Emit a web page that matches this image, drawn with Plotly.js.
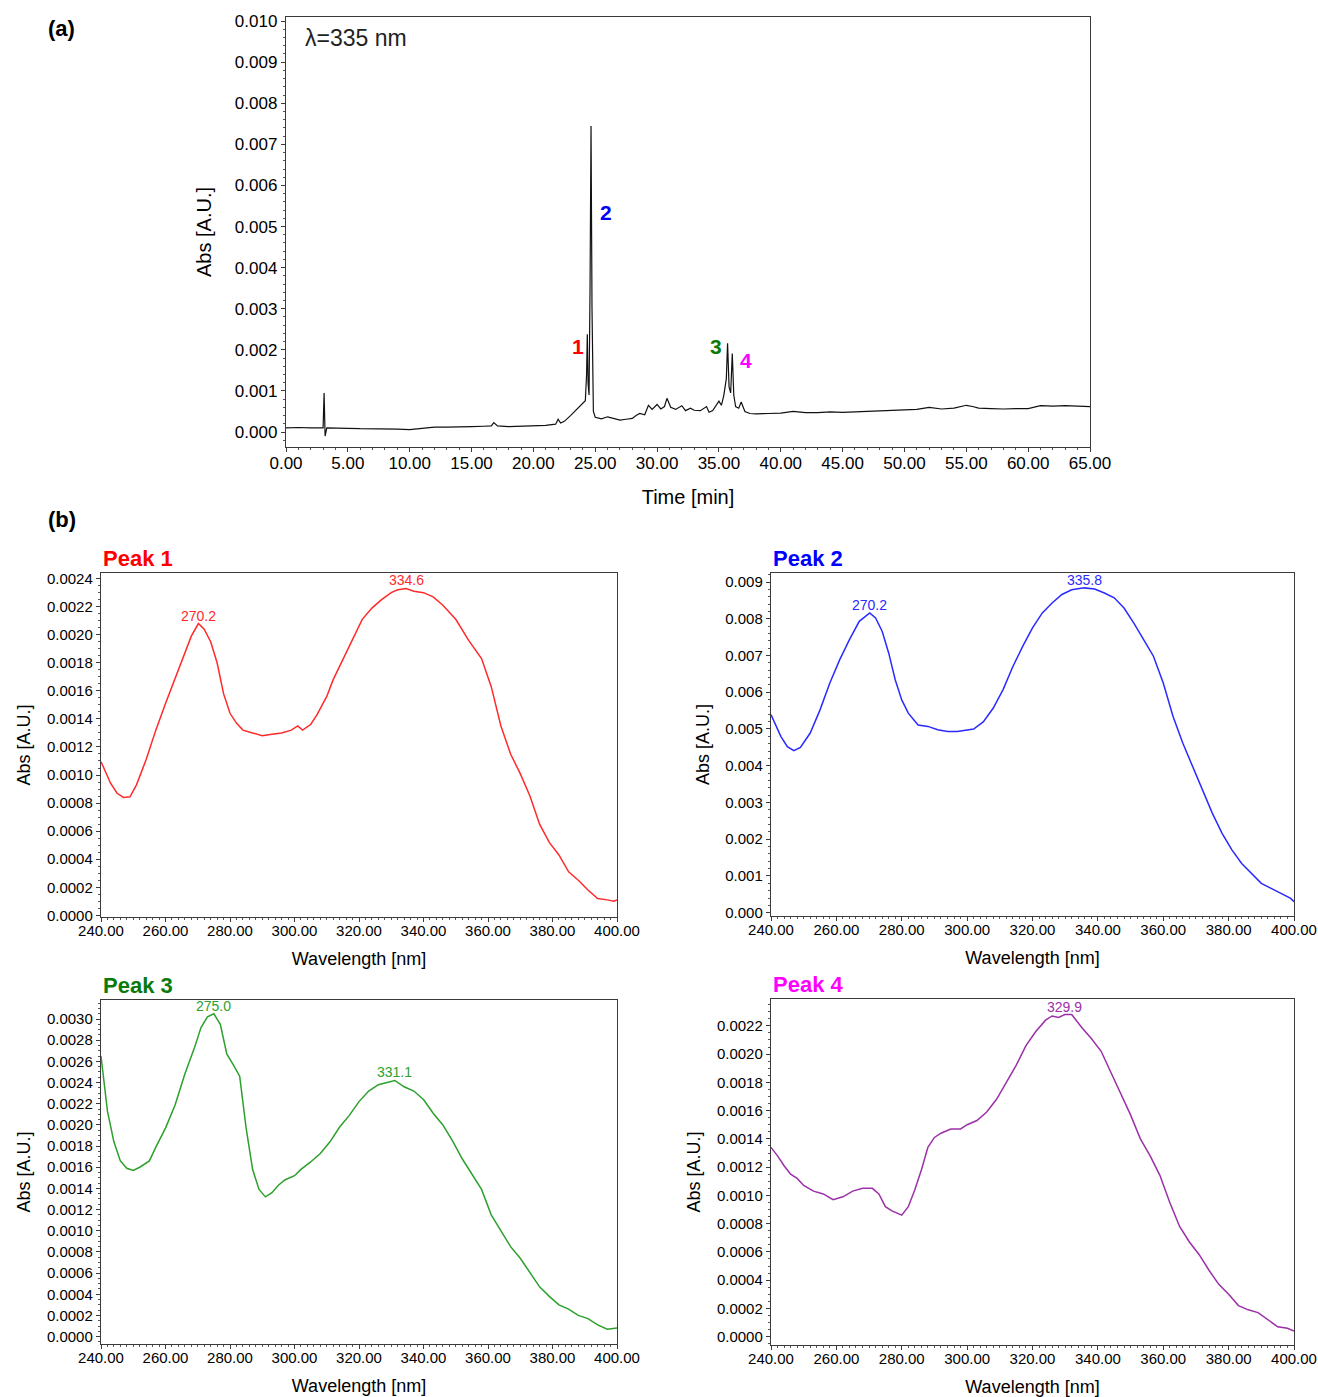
<!DOCTYPE html>
<html><head><meta charset="utf-8">
<script src="https://cdn.plot.ly/plotly-3.0.1.min.js"></script>
<style>html,body{margin:0;padding:0;background:#fff}#chart{width:1318px;height:1397px}</style>
</head><body><div id="chart"></div>
<script>
// ---- (a) chromatogram at 335 nm ----
const chromTime = [0,1,2,2.9,3.0,3.08,3.16,3.3,4,5,6,7,8,9,10,11,12,13,14,15,16,16.6,16.8,17.1,18,19,20,21,21.8,22.0,22.2,22.5,23,23.5,24.0,24.2,24.3,24.36,24.42,24.5,24.58,24.66,24.74,24.85,25.0,25.5,26,26.5,27,27.5,28,28.3,28.6,29,29.3,29.6,30,30.3,30.6,30.8,31.1,31.5,32,32.3,32.7,33,33.5,34,34.2,34.5,35.0,35.2,35.4,35.6,35.7,35.82,35.95,36.08,36.2,36.35,36.6,36.8,37.1,37.5,38,39,40,41,42,43,44,45,46,47,48,49,50,51,52,53,54,55,55.5,56,57,58,59,60,61,62,63,64,65];
const chromAbs = [0.00010,0.00011,0.00010,0.00011,0.00010,0.00095,-0.00010,0.00010,0.00010,0.00009,0.00008,0.00008,0.00008,0.00007,0.00006,0.00009,0.00012,0.00012,0.00012,0.00013,0.00014,0.00015,0.00023,0.00015,0.00013,0.00014,0.00014,0.00016,0.00019,0.00031,0.00022,0.00026,0.00040,0.00055,0.00070,0.00076,0.00140,0.00238,0.00120,0.00090,0.00350,0.00745,0.00300,0.00050,0.00036,0.00032,0.00037,0.00033,0.00029,0.00031,0.00033,0.00040,0.00045,0.00042,0.00065,0.00055,0.00067,0.00056,0.00062,0.00082,0.00060,0.00055,0.00064,0.00052,0.00058,0.00053,0.00052,0.00062,0.00048,0.00052,0.00075,0.00065,0.00090,0.00130,0.00216,0.00110,0.00095,0.00191,0.00090,0.00062,0.00058,0.00073,0.00050,0.00045,0.00044,0.00045,0.00046,0.00050,0.00047,0.00047,0.00049,0.00048,0.00049,0.00050,0.00051,0.00052,0.00054,0.00055,0.00060,0.00056,0.00058,0.00065,0.00062,0.00058,0.00057,0.00056,0.00057,0.00057,0.00064,0.00063,0.00064,0.00063,0.00062];
const peakNumbers = ['1','2','3','4'];
const peakNumTime = [23.6,25.87,34.76,37.19];
const peakNumAbs = [0.00207,0.00533,0.00207,0.00175];

// ---- (b) UV spectra ----
const wl1 = [240,243,245,247,249,251,254,257,260,263,266,268,270.2,272,274,276,278,280,282,284,287,290,293,296,299,301,302.5,305,307,310,312,315,318,321,324,327,330,332,334.6,337,340,343,346,350,354,358,361,364,367,370,373,376,379,382,385,388,391,394,397,399,400];
const abs1 = [0.001095,0.00094,0.00087,0.00084,0.000845,0.00093,0.00111,0.00132,0.00151,0.00169,0.00187,0.00199,0.00208,0.00204,0.00195,0.00180,0.00158,0.00144,0.00137,0.00132,0.00130,0.00128,0.00129,0.00130,0.00132,0.00135,0.00132,0.00136,0.00143,0.00156,0.00168,0.00182,0.00196,0.00211,0.00219,0.00225,0.00230,0.00232,0.00233,0.00231,0.00230,0.00227,0.00221,0.00211,0.00196,0.00183,0.00163,0.00135,0.00115,0.00101,0.00085,0.00065,0.00052,0.00043,0.00031,0.00025,0.00018,0.00012,0.00011,0.00010,0.00011];
const wl2 = [240,243,245,247,249,252,255,258,261,264,267,270.2,272,274,276,278,280,282,285,288,291,294,297,300,302,305,308,311,314,317,320,323,326,329,332,335.8,339,342,345,348,351,354,357,360,363,366,369,372,375,378,381,384,387,390,393,396,399,400];
const abs2 = [0.00539,0.00480,0.00452,0.00441,0.00450,0.00489,0.00552,0.00625,0.00688,0.00743,0.00793,0.00816,0.00802,0.00766,0.00707,0.00634,0.00579,0.00543,0.00511,0.00507,0.00498,0.00493,0.00493,0.00498,0.00500,0.00520,0.00557,0.00607,0.00670,0.00725,0.00775,0.00816,0.00843,0.00866,0.00879,0.00884,0.00881,0.00870,0.00857,0.00829,0.00788,0.00743,0.00698,0.00625,0.00534,0.00461,0.00398,0.00334,0.00271,0.00216,0.00171,0.00134,0.00107,0.00080,0.00066,0.00053,0.00039,0.00030];
const wl3 = [240,241,242,244,246,248,250,252,255,257,260,263,266,269,271,273,275,277,279,281,283,285,287,289,291,293,295,297,300,302,305,308,311,314,317,320,323,326,329,331.1,334,337,340,343,346,349,352,355,358,361,364,367,370,373,376,379,382,385,388,391,394,397,400];
const abs3 = [0.00265,0.00238,0.00213,0.00184,0.00166,0.00159,0.00157,0.00160,0.00166,0.00179,0.00197,0.00219,0.00248,0.00273,0.00292,0.00302,0.00305,0.00295,0.00267,0.00257,0.00246,0.00197,0.00158,0.00139,0.00132,0.00136,0.00143,0.00148,0.00152,0.00158,0.00165,0.00173,0.00184,0.00198,0.00209,0.00222,0.00232,0.00238,0.00240,0.00242,0.00236,0.00232,0.00224,0.00211,0.00200,0.00185,0.00168,0.00154,0.00139,0.00115,0.00100,0.00085,0.00074,0.00061,0.00047,0.00038,0.00030,0.00026,0.00020,0.00017,0.00011,0.00007,0.00008];
const wl4 = [240,242,244,246,248,250,253,256,259,262,265,268,271,273,275,277,280,282,284,286,288,290,292,295,298,300,303,306,309,312,315,318,321,324,326,328,329.9,332,335,338,341,344,347,350,353,356,359,362,365,368,371,374,377,380,383,386,389,392,395,398,400];
const abs4 = [0.00134,0.00128,0.00121,0.00115,0.00112,0.00107,0.00103,0.00101,0.00097,0.00099,0.00103,0.00105,0.00105,0.00101,0.00092,0.00089,0.00086,0.00092,0.00104,0.00118,0.00134,0.00141,0.00144,0.00147,0.00147,0.00150,0.00153,0.00159,0.00168,0.00180,0.00192,0.00206,0.00216,0.00224,0.00227,0.00226,0.00228,0.00228,0.00219,0.00211,0.00202,0.00187,0.00172,0.00157,0.00140,0.00128,0.00114,0.00095,0.00078,0.00067,0.00058,0.00047,0.00037,0.00030,0.00022,0.00019,0.00017,0.00012,0.00007,0.00006,0.00004];

const specTitles = ['Peak 1','Peak 2','Peak 3','Peak 4'];
const maxLabels = [['270.2','334.6'],['270.2','335.8'],['275.0','331.1'],['329.9']];
const maxWl = [[270.2,334.6],[270.2,335.8],[275.0,331.1],[329.9]];
const maxAbs = [[0.00208,0.00233],[0.00816,0.00884],[0.00305,0.00242],[0.00228]];

const FONT = 'Liberation Sans, Arial, Helvetica, sans-serif';
const lineCol = ['#ff2a2a','#2a2aff','#2ca02c','#9b30a8'];
const titleCol = ['#ff0000','#0000ff','#0a7a0a','#ff00ff'];
const numCol = ['#ff0000','#0000ff','#0a7a0a','#ff00ff'];

const W = 1318, H = 1397;
const px = v => v / W;
const py = v => 1 - v / H;

const boxes = [
  {x0:101, x1:617, y0:573, y1:917},
  {x0:771, x1:1294, y0:573, y1:916},
  {x0:101, x1:617, y0:1000, y1:1344},
  {x0:771, x1:1294, y0:999, y1:1345}
];
const yRanges = [[-0.000012,0.00244],[-0.00009,0.009245],[-0.00007,0.00318],[-0.000059,0.00239]];
const yDt = [0.0002,0.001,0.0002,0.0002];
const yFmt = ['.4f','.3f','.4f','.4f'];
const wls = [wl1,wl2,wl3,wl4];
const abss = [abs1,abs2,abs3,abs4];

const axCommon = {
  showline:true, mirror:true, linecolor:'#3a3a3a', linewidth:1.2,
  ticks:'outside', ticklen:4, tickcolor:'#3a3a3a', showgrid:false, zeroline:false,
  color:'#000'
};

const data = [{
  x: chromTime, y: chromAbs, type:'scatter', mode:'lines',
  line:{color:'#111', width:1.2}, xaxis:'x', yaxis:'y', hoverinfo:'skip'
}];
const layout = {
  width:W, height:H, margin:{l:0,r:0,t:0,b:0},
  paper_bgcolor:'#fff', plot_bgcolor:'#fff', showlegend:false,
  font:{family:FONT, color:'#000'},
  xaxis: Object.assign({}, axCommon, {
    domain:[px(286), px(1090)], range:[0,65], dtick:5, tick0:0, tickformat:'.2f',
    tickfont:{size:17}, anchor:'y', ticklabelstandoff:-4,
    minor:{ticks:'outside', ticklen:2, dtick:1, tickcolor:'#555'},
    title:{text:'Time [min]', font:{size:20}, standoff:18}
  }),
  yaxis: Object.assign({}, axCommon, {
    domain:[py(447), py(17)], range:[-0.000365,0.0101], dtick:0.001, tick0:0, tickformat:'.3f',
    tickfont:{size:17}, anchor:'x',
    minor:{ticks:'outside', ticklen:2, dtick:0.0002, tickcolor:'#555'},
    title:{text:'Abs [A.U.]', font:{size:20}, standoff:17}
  }),
  annotations: [],
};

for (let i = 0; i < 4; i++) {
  const n = i + 2;
  const b = boxes[i];
  data.push({
    x: wls[i], y: abss[i], type:'scatter', mode:'lines',
    line:{color:lineCol[i], width:1.5}, xaxis:'x'+n, yaxis:'y'+n, hoverinfo:'skip'
  });
  layout['xaxis'+n] = Object.assign({}, axCommon, {
    domain:[px(b.x0), px(b.x1)], range:[240,400], dtick:20, tick0:240, tickformat:'.2f',
    tickfont:{size:15}, anchor:'y'+n, ticklabelstandoff:-4,
    minor:{ticks:'outside', ticklen:2, dtick:2, tickcolor:'#555'},
    title:{text:'Wavelength [nm]', font:{size:18}, standoff:14}
  });
  layout['yaxis'+n] = Object.assign({}, axCommon, {
    domain:[py(b.y1), py(b.y0)], range:yRanges[i], dtick:yDt[i], tick0:0, tickformat:yFmt[i],
    tickfont:{size:15}, anchor:'x'+n,
    minor:{ticks:'outside', ticklen:2, nticks:5, tickcolor:'#555'},
    title:{text:'Abs [A.U.]', font:{size:18}, standoff:11}
  });
  layout.annotations.push({
    xref:'paper', yref:'paper', x:px(b.x0), y:py(b.y0 - 15), xanchor:'left', yanchor:'middle',
    text:'<b>'+specTitles[i]+'</b>', showarrow:false, font:{size:22, color:titleCol[i], family:FONT}
  });
  for (let k = 0; k < maxLabels[i].length; k++) {
    layout.annotations.push({
      xref:'x'+n, yref:'y'+n, x:maxWl[i][k], y:maxAbs[i][k], xanchor:'center', yanchor:'bottom',
      text:maxLabels[i][k], showarrow:false, yshift:-2, font:{size:14, color:lineCol[i], family:FONT}
    });
  }
}

for (let k = 0; k < 4; k++) {
  layout.annotations.push({
    xref:'x', yref:'y', x:peakNumTime[k], y:peakNumAbs[k], xanchor:'center', yanchor:'middle',
    text:'<b>'+peakNumbers[k]+'</b>', showarrow:false, font:{size:21, color:numCol[k], family:FONT}
  });
}
layout.annotations.push({
  xref:'paper', yref:'paper', x:px(303), y:py(38), xanchor:'left', yanchor:'middle',
  text:'λ=335 nm', showarrow:false, font:{size:23, color:'#222', family:FONT}
});
layout.annotations.push({
  xref:'paper', yref:'paper', x:px(46), y:py(28), xanchor:'left', yanchor:'middle',
  text:'<b>(a)</b>', showarrow:false, font:{size:22, color:'#000', family:FONT}
});
layout.annotations.push({
  xref:'paper', yref:'paper', x:px(46), y:py(519), xanchor:'left', yanchor:'middle',
  text:'<b>(b)</b>', showarrow:false, font:{size:22, color:'#000', family:FONT}
});

Plotly.newPlot('chart', data, layout, {staticPlot:true, displayModeBar:false});
</script></body></html>
